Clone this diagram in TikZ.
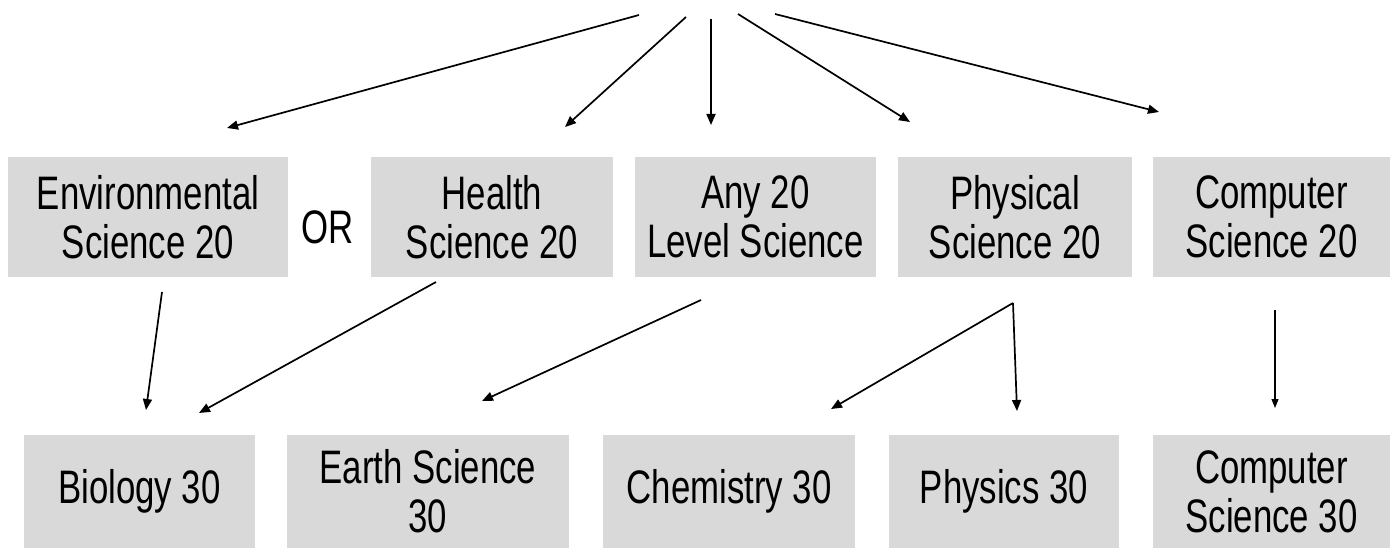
\documentclass[tikz,border=0pt]{standalone}
\usepackage{fontspec}
\newfontfamily\boxfont[FakeStretch=0.74]{Liberation Sans}
\usetikzlibrary{arrows.meta}
\definecolor{boxgray}{HTML}{D9D9D9}
\begin{document}
\begin{tikzpicture}[x=1pt,y=-1pt,
  course/.style={fill=boxgray,draw=none,inner sep=0pt,align=center,
    font=\boxfont\fontsize{47}{49}\selectfont,text=black},
  toprow/.style={course,minimum height=120pt},
  botrow/.style={course,minimum height=113pt},
  link/.style={line width=1.7pt,-{Triangle[length=11pt,width=9pt]}},
  thinlink/.style={line width=1.2pt,-{Triangle[length=9pt,width=7pt]}}]
\useasboundingbox (0,0) rectangle (1390,548);
% top row
\node[toprow,minimum width=280pt] (env) at (148,217) {Environmental\\Science 20};
\node[toprow,minimum width=242pt] (health) at (492,217) {Health\\Science 20};
\node[toprow,minimum width=241pt] (any) at (755.5,217) {Any 20\\Level Science};
\node[toprow,minimum width=234pt] (phys) at (1015,217) {Physical\\Science 20};
\node[toprow,minimum width=237pt] (cs20) at (1271.5,217) {Computer\\Science 20};
\node[font=\boxfont\fontsize{47}{49}\selectfont] (or) at (328,227) {OR};
% bottom row
\node[botrow,minimum width=231pt] (bio) at (139.5,491.5) {Biology 30};
\node[botrow,minimum width=282pt] (earth) at (428,491.5) {Earth Science\\30};
\node[botrow,minimum width=252pt] (chem) at (729,491.5) {Chemistry 30};
\node[botrow,minimum width=230pt] (physics) at (1004,491.5) {Physics 30};
\node[botrow,minimum width=237pt] (cs30) at (1271.5,491.5) {Computer\\Science 30};
% free ends of connectors
\coordinate (s1) at (639,15);  \coordinate (e1) at (227,128);
\coordinate (s2) at (686,17);  \coordinate (e2) at (565,127);
\coordinate (s3) at (711,19);  \coordinate (e3) at (711,125);
\coordinate (s4) at (738,14);  \coordinate (e4) at (910,122);
\coordinate (s5) at (775,14);  \coordinate (e5) at (1159,112);
\coordinate (m1) at (162,292); \coordinate (b1) at (146,410);
\coordinate (m2) at (436,282); \coordinate (b2) at (199,413);
\coordinate (m3) at (701,300); \coordinate (b3) at (482,401);
\coordinate (m4) at (1013,303); \coordinate (b4) at (831,409);
\coordinate (b5) at (1017,411);
\coordinate (m6) at (1275,310); \coordinate (b6) at (1275,408);
% connectors
\draw[link] (s1) -- (e1);
\draw[link] (s2) -- (e2);
\draw[link] (s3) -- (e3);
\draw[link] (s4) -- (e4);
\draw[link] (s5) -- (e5);
\draw[link] (m1) -- (b1);
\draw[link] (m2) -- (b2);
\draw[link] (m3) -- (b3);
\draw[link] (m4) -- (b4);
\draw[link] (m4) -- (b5);
\draw[thinlink] (m6) -- (b6);
\end{tikzpicture}
\end{document}
